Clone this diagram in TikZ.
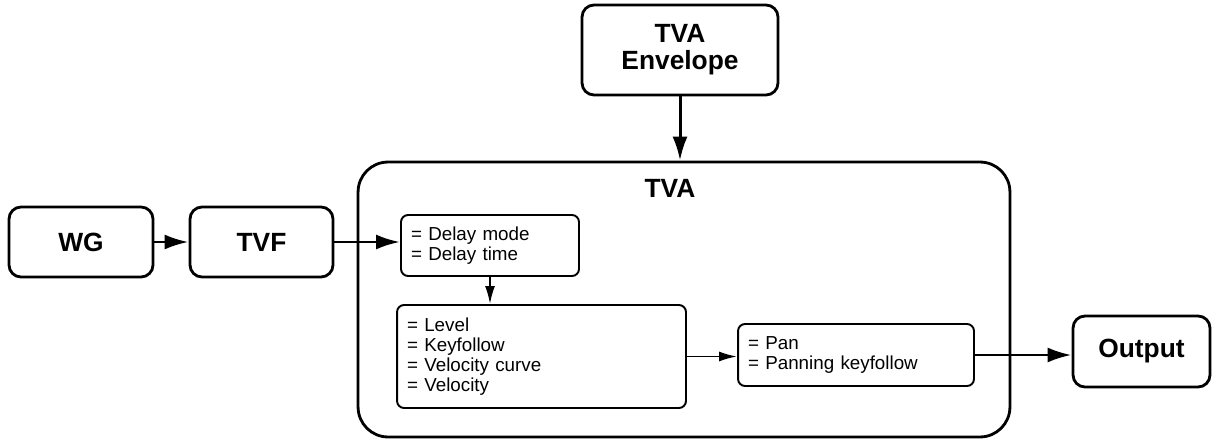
\documentclass[tikz,border=0pt]{standalone}
\usepackage{fontspec}
\setmainfont{Liberation Sans}
\usetikzlibrary{positioning,arrows.meta}
\tikzset{
  bigbox/.style={draw, line width=1.6pt, rounded corners=0.24cm, align=center, font=\fontsize{15}{15.5}\selectfont\bfseries},
  tvabox/.style={draw, line width=1.6pt, rounded corners=0.6cm},
  smallbox/.style={draw, line width=1.1pt, rounded corners=0.14cm, align=left, inner sep=0.2cm, font=\fontsize{10.7}{11.4}\selectfont},
  bigarrow/.style={line width=1.7pt, -{Latex[length=0.48cm, width=0.3cm]}},
  smallarrow/.style={line width=1.1pt, -{Latex[length=0.36cm, width=0.2cm]}}
}
\begin{document}
\begin{tikzpicture}[x=0.02cm, y=-0.02cm]
    \useasboundingbox (0,0) rectangle (1212,439);
    \node[tvabox, minimum width=13.04cm, minimum height=5.5cm] (tva) at (684,299.5) {};
    \node[font=\fontsize{15}{15.5}\selectfont\bfseries] (tvalabel) at (670,188) {TVA};
    \node[bigbox, minimum width=2.88cm, minimum height=1.4cm] (wg) at (81,242) {WG};
    \node[bigbox, minimum width=2.86cm, minimum height=1.4cm] (tvf) at (261.5,242) {TVF};
    \node[bigbox, minimum width=3.92cm, minimum height=1.8cm] (env) at (680,50) {TVA\\Envelope};
    \node[bigbox, minimum width=2.74cm, minimum height=1.42cm] (out) at (1141.5,351.5) {Output};
    \node[smallbox, text width=3.16cm, minimum height=1.22cm] (delay) at (490,245.5) {= Delay mode\\= Delay time};
    \node[smallbox, text width=5.38cm, minimum height=2.06cm] (level) at (541.5,356.5) {= Level\\= Keyfollow\\= Velocity curve\\= Velocity};
    \node[smallbox, text width=4.32cm, minimum height=1.24cm] (pan) at (856,355) {= Pan\\= Panning keyfollow};
    \draw[bigarrow] (wg) -- (tvf);
    \draw[bigarrow] (tvf.east) -- (tvf.east -| delay.west);
    \draw[bigarrow] (env) -- (env |- tva.north);
    \draw[smallarrow] (delay) -- (delay |- level.north);
    \draw[smallarrow] (level.east) -- (level.east -| pan.west);
    \draw[bigarrow] (pan.east) -- (pan.east -| out.west);
  \end{tikzpicture}
\end{document}
